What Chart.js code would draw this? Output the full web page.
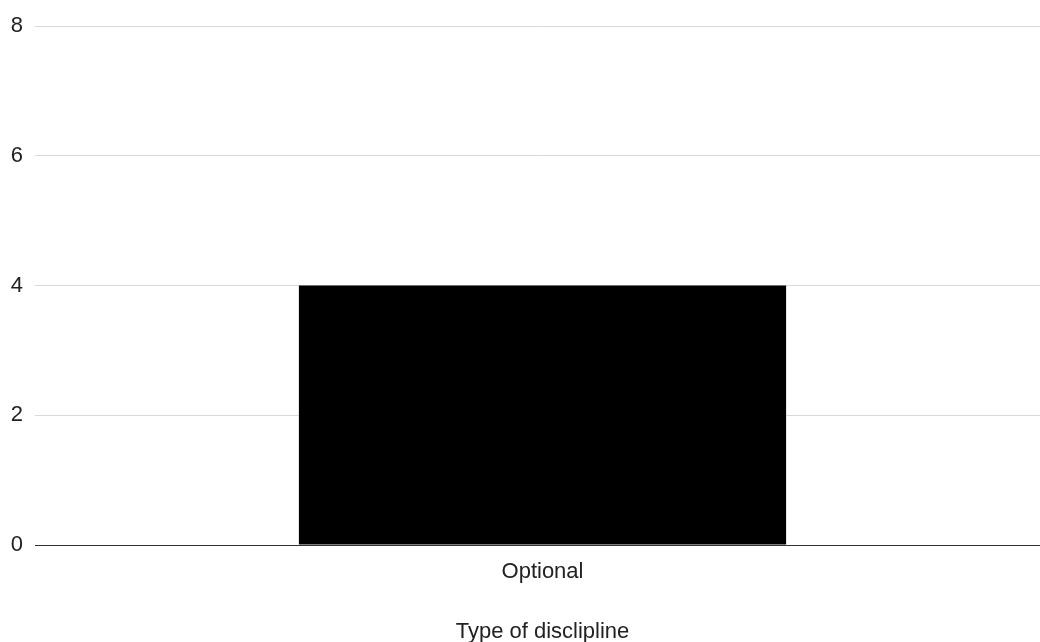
<!DOCTYPE html>
<html>
<head>
<meta charset="utf-8">
<script src="https://cdn.jsdelivr.net/npm/chart.js@4"></script>
<style>
html,body{margin:0;padding:0;background:#fff;overflow:hidden;}
#wrap{width:1040px;height:642px;overflow:hidden;}
</style>
</head>
<body>
<div id="wrap"><canvas id="c" width="1050" height="642"></canvas></div>
<script>
const categories = ["Optional"];
const values = [4];
const yTicks = [0, 2, 4, 6, 8];
const xTitle = "Type of disclipline";

Chart.defaults.font.family = "'Liberation Sans', Arial, sans-serif";
Chart.defaults.font.size = 22;
Chart.defaults.color = "#222";

new Chart(document.getElementById('c'), {
  type: 'bar',
  data: {
    labels: categories,
    datasets: [{
      data: values,
      backgroundColor: '#000000',
      borderWidth: 0,
      categoryPercentage: 1,
      barPercentage: 0.48
    }]
  },
  options: {
    responsive: false,
    animation: false,
    devicePixelRatio: 1,
    layout: { padding: { top: 26, right: 0, bottom: 0, left: 0 } },
    plugins: { legend: { display: false }, tooltip: { enabled: false } },
    scales: {
      x: {
        grid: { display: false, drawTicks: false },
        border: { color: '#333', width: 1 },
        ticks: { padding: 14, color: '#222' },
        title: { display: true, text: xTitle, color: '#222', padding: { top: 0, bottom: -3 } },
        afterFit: s => { s.height = 97; }
      },
      y: {
        min: yTicks[0],
        max: yTicks[yTicks.length - 1],
        afterBuildTicks: s => { s.ticks = yTicks.map(v => ({ value: v })); },
        grid: { color: '#d9d9d9', drawTicks: false },
        border: { display: false },
        ticks: { padding: 12, color: '#222' },
        afterFit: s => { s.width = 35; }
      }
    }
  }
});
</script>
</body>
</html>
